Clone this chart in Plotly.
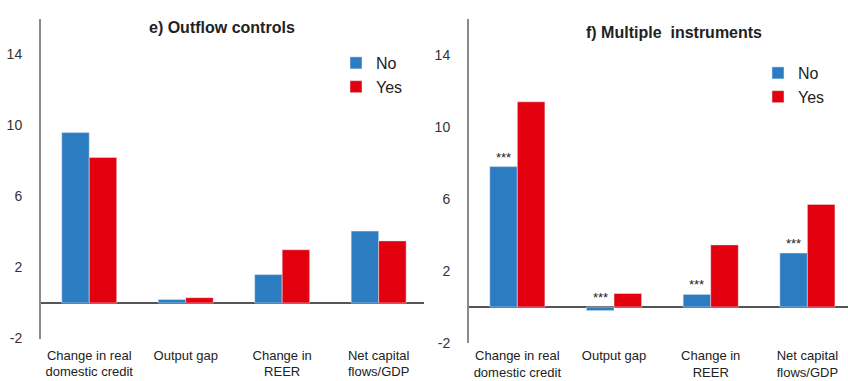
import plotly.graph_objects as go

# Categories shared by both panels
categories = ["Change in real<br>domestic credit", "Output gap", "Change in<br>REER", "Net capital<br>flows/GDP"]

# Panel e) Outflow controls
outflow_no = [9.6, 0.2, 1.6, 4.05]
outflow_yes = [8.2, 0.3, 3.0, 3.5]

# Panel f) Multiple instruments
multi_no = [7.8, -0.2, 0.7, 3.0]
multi_yes = [11.4, 0.75, 3.45, 5.7]
multi_stars = ["***", "***", "***", "***"]

y_tickvals = [-2, 2, 6, 10, 14]
y_ticktext = ["-2", "2", "6", "10", "14"]

BLUE = "#2c7cc2"
RED = "#e2000f"
FONT = "Liberation Sans, Arial, sans-serif"
BARGAP = 0.43

W, H = 848, 381

fig = go.Figure()
fig.add_trace(go.Bar(x=categories, y=outflow_no, name="No", marker_color=BLUE,
                     xaxis="x", yaxis="y", legend="legend"))
fig.add_trace(go.Bar(x=categories, y=outflow_yes, name="Yes", marker_color=RED,
                     xaxis="x", yaxis="y", legend="legend"))
fig.add_trace(go.Bar(x=categories, y=multi_no, name="No", marker_color=BLUE,
                     xaxis="x2", yaxis="y2", legend="legend2"))
fig.add_trace(go.Bar(x=categories, y=multi_yes, name="Yes", marker_color=RED,
                     xaxis="x2", yaxis="y2", legend="legend2"))

# Significance markers above the "No" bars of panel f
offset = (1 - BARGAP) / 4
annotations = []
for i, (v, s) in enumerate(zip(multi_no, multi_stars)):
    annotations.append(dict(x=i - offset, y=max(v, 0), xref="x2", yref="y2", text=s,
                            showarrow=False, xanchor="center", yanchor="bottom", yshift=0,
                            font=dict(size=13, color="#222", family=FONT)))

# Panel titles
annotations.append(dict(x=222 / W, y=1 - 28 / H, xref="paper", yref="paper",
                        xanchor="center", yanchor="middle",
                        text="<b>e) Outflow controls</b>", showarrow=False,
                        font=dict(size=16, color="#222", family=FONT)))
annotations.append(dict(x=674 / W, y=1 - 33 / H, xref="paper", yref="paper",
                        xanchor="center", yanchor="middle",
                        text="<b>f) Multiple  instruments</b>", showarrow=False,
                        font=dict(size=16, color="#222", family=FONT)))

xcommon = dict(type="category", showline=False, showgrid=False, ticks="",
               tickfont=dict(size=13, color="#222", family=FONT), automargin=False)
ycommon = dict(range=[-2, 16], tickvals=y_tickvals, ticktext=y_ticktext,
               showgrid=False, showline=True, linecolor="#8a8a8a", linewidth=2,
               zeroline=True, zerolinecolor="#555", zerolinewidth=1.5, ticks="",
               tickfont=dict(size=14, color="#333", family=FONT), automargin=False,
               ticklabelstandoff=14)

fig.update_layout(
    width=W, height=H,
    margin=dict(l=0, r=0, t=0, b=0),
    paper_bgcolor="white", plot_bgcolor="white",
    barmode="group", bargap=BARGAP, bargroupgap=0,
    xaxis=dict(domain=[41 / W, 424 / W], range=[-0.5, 3.47], anchor="y",
               ticklabelstandoff=7, **xcommon),
    yaxis=dict(domain=[(H - 338.5) / H, (H - 19) / H], anchor="x", **ycommon),
    xaxis2=dict(domain=[469 / W, 1.0], range=[-0.5, 3.42], anchor="y2",
                ticklabelstandoff=3, **xcommon),
    yaxis2=dict(domain=[(H - 343) / H, (H - 19) / H], anchor="x2", **ycommon),
    legend=dict(x=336 / W, y=1 - 46 / H, xanchor="left", yanchor="top",
                font=dict(size=16, color="#222", family=FONT), bgcolor="rgba(0,0,0,0)"),
    legend2=dict(x=758 / W, y=1 - 56 / H, xanchor="left", yanchor="top",
                 font=dict(size=16, color="#222", family=FONT), bgcolor="rgba(0,0,0,0)"),
    annotations=annotations,
    showlegend=True,
)

fig.write_html("out.html")
